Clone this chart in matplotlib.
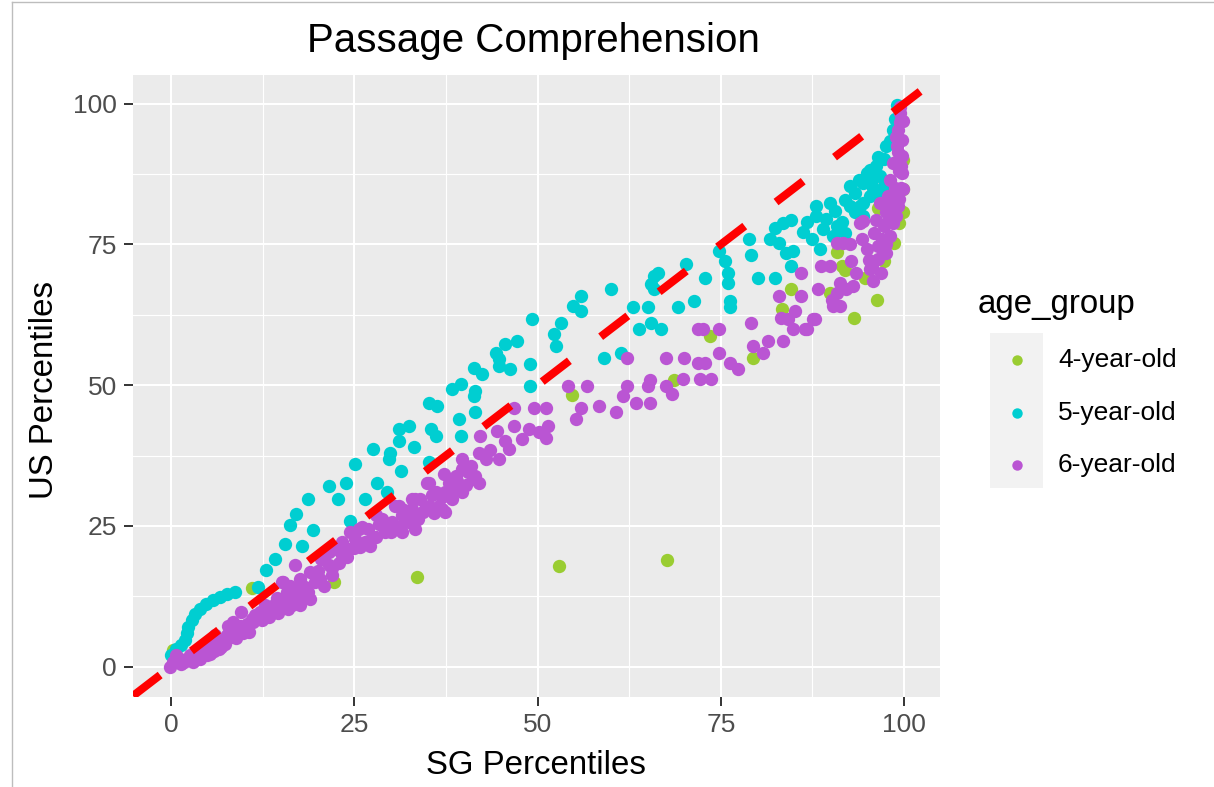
import matplotlib
matplotlib.use("Agg")
import matplotlib.pyplot as plt
from matplotlib.patches import Rectangle
from matplotlib.lines import Line2D

plt.rcParams["font.family"] = ["Liberation Sans", "DejaVu Sans"]

W, H = 1214, 787

AGE_GROUPS = ["4-year-old", "5-year-old", "6-year-old"]
COLORS = ["#9ACD32", "#00CED1", "#BA55D3"]

# 4-year-old (SG percentile, US percentile)
sg_4 = [0.3, 11.0, 22.2, 33.5, 52.9, 67.6, 54.7, 68.6, 73.5, 79.4, 83.3, 84.6,
        89.9, 90.8, 91.5, 93.1, 94.7, 96.3, 97.3, 98.6, 99.3, 99.8, 99.9, 99.9,
        96.5, 92.0]
us_4 = [2.9, 13.9, 15.0, 15.9, 17.8, 19.0, 48.2, 50.9, 58.8, 54.9, 63.5, 67.0,
        66.4, 73.7, 71.2, 61.9, 69.1, 65.1, 72.1, 75.3, 78.8, 80.7, 84.8, 90.0,
        81.5, 70.5]

# 5-year-old
sg_5 = [0.05, 0.7, 1.4, 1.9, 2.1, 2.3, 2.8, 3.2, 3.9, 4.8, 5.7, 6.7, 7.6, 8.7,
        11.9, 13.0, 14.2, 15.6, 16.2, 17.1, 17.8, 19.4, 18.7, 21.5, 22.8, 23.8,
        24.4, 25.1, 26.5, 28.1, 29.5, 29.7, 29.9, 31.3, 27.6,
        31.1, 31.1, 32.4, 33.1, 35.2, 36.3, 35.4, 36.1, 35.2, 38.3, 39.5, 39.3,
        39.5, 41.3, 42.4, 41.5, 41.3, 41.5,
        44.3, 44.7, 45.6, 47.2, 44.7, 46.3, 49.0, 49.0, 49.3, 52.3, 52.5, 53.2,
        54.8, 55.9, 55.9, 60.0, 59.1, 61.4, 63.0, 65.0, 63.9, 65.5, 66.8, 65.5,
        65.9, 69.1, 71.4,
        65.9, 66.4, 70.3, 72.8, 74.8, 75.6, 76.0, 76.0, 76.2, 76.2, 78.9, 79.1,
        80.1, 82.4, 81.7, 82.4, 83.5, 84.6, 83.0, 83.9, 84.8, 84.6, 86.2, 88.0,
        88.0, 88.5, 88.9, 89.9, 90.6, 90.8, 90.3, 92.0, 92.6, 92.6, 93.3, 93.3,
        94.4, 94.4, 94.9, 95.6, 95.3, 96.2, 96.7, 97.2, 97.6, 98.1, 98.5, 98.8,
        99.0, 97.2, 96.7, 95.3, 94.0, 94.4,
        86.8, 87.5, 89.3, 91.5, 92.0, 93.8, 95.8, 96.5]
us_5 = [2.0, 3.2, 3.8, 4.7, 5.9, 7.0, 8.2, 9.4, 10.3, 11.2, 11.8, 12.4, 12.9, 13.2,
        14.1, 17.1, 19.1, 21.8, 25.1, 27.1, 21.5, 24.2, 29.8, 32.1, 29.8, 32.7,
        25.9, 36.0, 29.8, 32.7, 31.0, 36.9, 38.0, 34.8, 38.7,
        42.2, 40.1, 42.8, 39.0, 46.9, 46.3, 42.2, 41.0, 36.3, 49.3, 50.2, 44.0,
        41.0, 53.1, 51.9, 49.0, 48.1, 45.2,
        55.8, 54.6, 57.3, 57.9, 53.4, 52.8, 53.7, 49.9, 61.7, 59.1, 57.0, 61.1,
        64.1, 65.8, 63.2, 67.0, 54.9, 55.8, 63.8, 63.8, 59.9, 61.1, 59.9, 67.9,
        67.0, 63.8, 65.0,
        69.4, 70.0, 71.5, 69.1, 73.9, 72.0, 70.0, 68.2, 65.0, 63.8, 75.9, 73.2,
        69.1, 69.1, 75.9, 78.0, 78.8, 79.4, 75.3, 73.5, 73.9, 71.2, 77.2, 81.8,
        80.1, 74.1, 77.7, 82.4, 80.9, 78.3, 76.5, 82.9, 81.8, 85.4, 84.2, 80.7,
        85.9, 82.4, 87.7, 86.5, 88.3, 88.9, 87.1, 90.1, 92.4, 93.3, 95.4, 97.2,
        99.8, 85.4, 84.2, 83.6, 81.8, 80.1,
        79.0, 76.0, 79.5, 79.0, 77.0, 86.5, 85.0, 90.5]

# 6-year-old
sg_6 = [-0.2, 0.3, 1.2, 2.1, 2.6, 3.5, 4.4, 5.1, 6.2, 7.1, 7.6, 8.5, 9.4, 8.0,
        8.9, 9.8, 9.6, 10.3, 11.2, 11.7, 12.1, 13.0, 13.3, 14.0, 14.4, 14.8,
        15.6, 15.8, 15.3, 16.7, 17.1, 17.6, 16.9, 17.6, 6.6, 3.0, 1.4, 0.7, 3.9,
        5.3, 5.9, 4.6, 6.0, 7.8, 10.1, 11.4, 12.8, 15.1, 16.5, 17.8, 18.7, 18.9,
        19.6, 20.3, 20.5, 21.5, 21.5, 22.4, 23.3, 23.3, 24.2, 24.4, 25.1, 25.6,
        26.5, 26.9, 28.3, 28.8, 29.2, 30.1, 30.6, 31.5, 32.0, 32.9, 33.3, 34.3,
        34.9, 33.1, 27.9, 26.0, 21.9, 27.6,
        42.2, 42.0, 42.9, 39.7, 40.9, 37.2, 38.8, 35.2, 36.1, 37.4, 38.8, 40.2,
        41.3, 32.9, 34.0, 35.2, 36.5, 38.3, 37.4, 33.3, 31.1, 39.7,
        46.8, 49.5, 51.1, 54.1, 56.8, 55.2, 55.9, 58.4, 60.7, 61.6, 62.2, 63.4,
        65.0, 65.3, 62.2, 67.5, 70.0, 68.4, 69.8, 71.9, 71.9, 46.8, 48.8, 50.2,
        51.4, 51.1, 47.9, 46.1, 44.5, 44.7, 39.7, 41.5, 42.0, 37.9, 35.6, 37.0,
        34.7, 32.4, 33.3, 31.5,
        72.5, 74.8, 72.8, 73.7, 74.8, 76.2, 77.3, 79.1, 79.4, 80.8, 81.4, 83.5,
        83.0, 83.2, 85.1, 84.8, 86.5, 86.0, 86.0, 87.8, 88.3, 88.7, 89.9, 90.1,
        90.8, 91.2, 91.7, 92.6, 92.8, 93.5, 93.0, 94.2, 94.4, 94.9, 95.2, 95.6,
        95.9, 96.2, 96.4, 96.7, 97.2, 97.6, 97.8, 98.1, 98.5, 99.0, 99.2, 99.5,
        99.5, 99.7, 99.7, 99.8, 99.2, 98.5, 98.1, 97.6, 99.7, 99.8, 94.0, 90.8,
        91.2, 84.2, 67.5, 72.1, 65.3, 95.3, 92.1, 90.3, 87.6, 86.7,
        99.4, 99.6, 99.3, 98.9, 99.6, 99.2, 98.7, 98.3, 97.9, 97.0, 96.5,
        1.8, 2.9, 4.0, 4.9, 5.8, 6.8, 7.4, 8.2, 9.0, 10.6, 11.0, 12.4, 13.8, 14.6,
        16.0, 16.2, 18.2, 19.0, 20.0, 20.9, 22.0, 22.9, 24.0, 24.9, 25.8, 27.2,
        28.0, 29.0, 30.0, 31.0, 31.8, 33.7, 35.9, 36.9, 38.0, 39.0, 40.5, 43.5,
        45.5, 98.9, 99.3, 98.8, 97.5, 96.8, 95.8]
us_6 = [0.0, 0.8, 1.4, 1.4, 2.0, 2.0, 2.6, 3.2, 3.8, 4.4, 5.6, 7.9, 7.3, 6.4,
        5.0, 5.9, 9.7, 7.6, 7.9, 9.1, 9.7, 10.3, 8.8, 10.9, 12.1, 10.9,
        11.5, 13.2, 15.0, 12.6, 13.8, 10.9, 18.0, 15.6, 3.2, 0.8, 0.5, 2.0, 1.4,
        2.3, 5.0, 3.8, 5.6, 7.3, 6.7, 9.1, 10.9, 15.0, 10.9, 12.6, 13.2, 16.8,
        15.0, 15.6, 19.1, 18.0, 20.3, 20.9, 19.8, 22.1, 20.9, 23.9, 22.7, 24.5,
        22.1, 24.5, 25.4, 26.2, 23.9, 25.7, 28.6, 26.9, 26.0, 28.0, 29.8, 27.4,
        32.7, 25.7, 26.9, 24.8, 16.2, 23.0,
        41.0, 38.0, 36.9, 36.9, 35.7, 34.2, 33.9, 32.7, 31.0, 31.0, 32.2, 32.2,
        33.3, 29.8, 29.8, 28.6, 28.6, 29.8, 27.4, 27.1, 28.6, 31.0,
        46.0, 46.0, 46.0, 49.9, 49.9, 44.0, 46.0, 46.3, 45.2, 48.1, 49.9, 46.9,
        49.9, 46.9, 54.9, 54.9, 54.9, 48.4, 51.1, 59.9, 54.0, 42.8, 42.2, 41.6,
        42.8, 40.7, 40.4, 38.7, 41.9, 36.9, 35.1, 33.9, 32.7, 32.7, 30.4, 28.0,
        28.0, 25.7, 24.5, 23.9,
        59.9, 59.9, 54.0, 51.1, 55.8, 54.0, 52.8, 61.1, 57.0, 55.8, 57.9, 57.9,
        65.8, 62.0, 63.2, 59.9, 59.9, 65.8, 70.0, 61.7, 67.0, 71.2, 71.2, 65.2,
        66.4, 68.2, 75.3, 75.0, 72.1, 70.0, 67.6, 75.9, 79.2, 74.1, 72.3, 71.2,
        77.0, 79.4, 74.7, 82.4, 78.3, 80.7, 83.6, 86.5, 89.5, 92.4, 95.4, 98.3,
        99.5, 93.6, 87.7, 84.8, 81.8, 78.8, 76.5, 73.5, 90.7, 97.0, 78.8, 75.3,
        64.1, 61.7, 49.9, 51.1, 51.0, 70.6, 67.0, 64.1, 61.7, 59.9,
        96.8, 85.0, 83.0, 80.0, 89.0, 91.5, 85.0, 82.0, 79.5, 76.0, 72.5,
        0.9, 1.1, 2.0, 2.0, 2.8, 3.5, 4.0, 5.2, 6.2, 6.1, 8.5, 8.2, 9.6, 9.5,
        10.2, 14.3, 14.2, 12.0, 17.0, 14.3, 17.5, 18.4, 19.5, 21.0, 21.2, 21.5,
        23.0, 25.0, 24.0, 24.8, 27.8, 26.3, 27.3, 30.2, 31.0, 33.0, 34.5, 38.5,
        40.0, 94.0, 88.0, 83.0, 75.0, 70.0, 68.5]

SERIES = [(sg_4, us_4), (sg_5, us_5), (sg_6, us_6)]

fig = plt.figure(figsize=(W / 100, H / 100), dpi=100)
ax = fig.add_axes([133 / W, 1 - 697 / H, (940 - 133) / W, (697 - 75) / H])
ax.set_facecolor("#EBEBEB")
for sp in ax.spines.values():
    sp.set_visible(False)

ax.set_xlim(-5.2, 104.9)
ax.set_ylim(-5.4, 105.1)
ticks = [0, 25, 50, 75, 100]
minor = [12.5, 37.5, 62.5, 87.5]
ax.set_xticks(ticks)
ax.set_yticks(ticks)
ax.set_xticks(minor, minor=True)
ax.set_yticks(minor, minor=True)
ax.grid(which="major", color="white", lw=1.5)
ax.grid(which="minor", color="white", lw=0.8)
ax.set_axisbelow(True)
ax.tick_params(which="minor", length=0)
ax.tick_params(which="major", length=6.5, width=1.4, color="#333333",
               labelsize=19, labelcolor="#4D4D4D", pad=5)

for (xs, ys), color in zip(SERIES, COLORS):
    ax.scatter(xs, ys, s=92, c=color, linewidths=0, zorder=2)

ax.axline((0, 0), slope=1, color="red", lw=5.8, linestyle=(0, (4.25, 4.9)), zorder=3)

fig.text(533 / W, 1 - 52 / H, "Passage Comprehension", fontsize=29, ha="center", va="baseline")
fig.text(536 / W, 1 - 765 / H, "SG Percentiles", fontsize=23.8, ha="center", va="center")
fig.text(45 / W, 1 - 390 / H, "US Percentiles", fontsize=23.8, rotation=90, ha="center", va="center")

# legend drawn by hand to get ggplot's grey key column
fig.text(978 / W, 1 - 313 / H, "age_group", fontsize=23.8, ha="left", va="baseline")
fig.add_artist(Rectangle((990 / W, 1 - 488 / H), 53 / W, 155 / H, transform=fig.transFigure,
                         facecolor="#F2F2F2", edgecolor="none"))
for label, color, yk in zip(AGE_GROUPS, COLORS, [360, 413, 465]):
    fig.add_artist(Line2D([1016.7 / W], [1 - yk / H], marker="o", ms=7.5, color=color,
                          markeredgewidth=0, linestyle="none", transform=fig.transFigure))
    fig.text(1058 / W, 1 - yk / H, label, fontsize=19, ha="left", va="center")

# thin screenshot frame at left and top
fig.add_artist(Line2D([11.5 / W, 11.5 / W], [0, 1 - 1.5 / H], color="#BDBDBD", lw=1,
                      transform=fig.transFigure))
fig.add_artist(Line2D([11.5 / W, 1], [1 - 1.5 / H, 1 - 1.5 / H], color="#BDBDBD", lw=1,
                      transform=fig.transFigure))

fig.savefig("out.png", dpi=100)
